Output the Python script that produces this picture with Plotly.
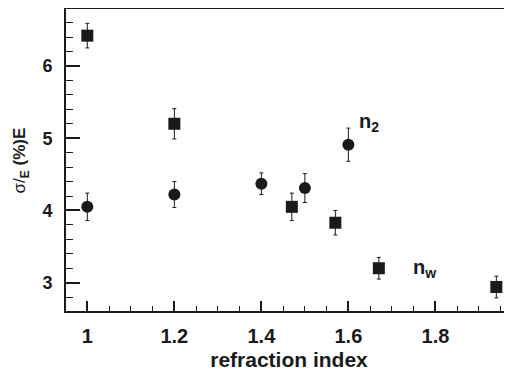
import plotly.graph_objects as go

# n_w series (squares)
nw_x = [1.0, 1.2, 1.47, 1.57, 1.67, 1.94]
nw_y = [6.42, 5.20, 4.05, 3.83, 3.20, 2.94]
nw_err = [0.17, 0.21, 0.19, 0.17, 0.15, 0.15]

# n_2 series (circles)
n2_x = [1.0, 1.2, 1.4, 1.5, 1.6]
n2_y = [4.05, 4.22, 4.37, 4.31, 4.91]
n2_err = [0.19, 0.18, 0.15, 0.20, 0.23]

x_ticks = [1, 1.2, 1.4, 1.6, 1.8]
x_tick_labels = ["1", "1.2", "1.4", "1.6", "1.8"]
y_ticks = [3, 4, 5, 6]
y_tick_labels = ["3", "4", "5", "6"]

FONT = "Liberation Sans, Arial, sans-serif"
INK = "#1a1a1a"

fig = go.Figure()
fig.add_trace(go.Scatter(
    x=nw_x, y=nw_y, mode="markers",
    marker=dict(symbol="square", size=12, color=INK),
    error_y=dict(type="data", array=nw_err, color=INK, thickness=1, width=2),
    showlegend=False))
fig.add_trace(go.Scatter(
    x=n2_x, y=n2_y, mode="markers",
    marker=dict(symbol="circle", size=12, color=INK),
    error_y=dict(type="data", array=n2_err, color=INK, thickness=1, width=2),
    showlegend=False))

# page body has an 8px margin, so the figure is sized/offset to compensate
fig.update_layout(
    width=504, height=364,
    margin=dict(l=58, r=0, t=1, b=61),
    paper_bgcolor="white", plot_bgcolor="white",
    font=dict(family=FONT, color=INK),
    xaxis=dict(
        range=[0.951, 1.976], showgrid=False, zeroline=False,
        showline=True, linewidth=2, linecolor=INK, mirror=True,
        ticks="inside", ticklen=10, tickwidth=1.5, tickcolor=INK,
        tickvals=x_ticks, ticktext=x_tick_labels,
        tickfont=dict(size=20, family=FONT, color=INK, weight="bold"),
        ticklabelstandoff=6,
        minor=dict(dtick=0.05, tick0=1, ticks="inside", ticklen=5, tickwidth=1.2, tickcolor=INK),
        title=dict(text="<b>refraction index</b>", font=dict(size=21, family=FONT, color=INK), standoff=6),
    ),
    yaxis=dict(
        range=[2.608, 6.789], showgrid=False, zeroline=False,
        showline=True, linewidth=2, linecolor=INK, mirror=False,
        ticks="inside", ticklen=14, tickwidth=1.5, tickcolor=INK,
        tickvals=y_ticks, ticktext=y_tick_labels,
        tickfont=dict(size=18, family=FONT, color=INK, weight="bold"),
        ticklabelstandoff=8,
        minor=dict(dtick=0.2, tick0=3, ticks="inside", ticklen=7, tickwidth=1.2, tickcolor=INK),
    ),
    annotations=[
        dict(text="σ/<sub><b>E</b></sub> <b>(%)E</b>", xref="paper", yref="paper",
             x=-0.1, y=0.5, xanchor="center", yanchor="middle", textangle=-90,
             showarrow=False, font=dict(size=17, family=FONT, color=INK)),
        dict(text="<b>n<sub>2</sub></b>", xref="x", yref="y", x=1.62, y=5.22,
             xanchor="left", yanchor="middle", showarrow=False,
             font=dict(size=20, family=FONT, color=INK)),
        dict(text="<b>n<sub>w</sub></b>", xref="x", yref="y", x=1.745, y=3.19,
             xanchor="left", yanchor="middle", showarrow=False,
             font=dict(size=20, family=FONT, color=INK)),
    ],
)

fig.write_html("out.html")
